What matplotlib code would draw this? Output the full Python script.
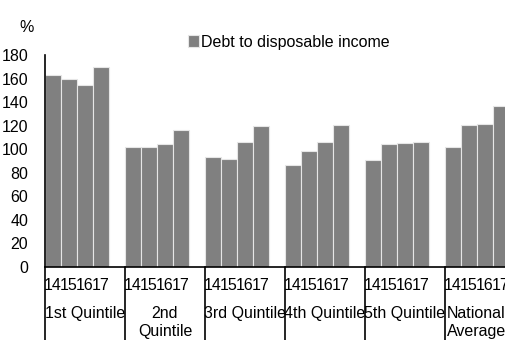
import matplotlib
matplotlib.use("Agg")
import matplotlib.pyplot as plt
import matplotlib.transforms as mtransforms
import numpy as np

plt.rcParams['font.family'] = ['Liberation Sans', 'DejaVu Sans']
plt.rcParams['font.size'] = 11.5

# debt to disposable income by quintile, years 2014-2017
groups = ['1st Quintile', '2nd\nQuintile', '3rd Quintile', '4th Quintile', '5th Quintile', 'National\nAverage']
years = ['14', '15', '16', '17']
values = [
    [162.7, 159.3, 154.8, 170.0],
    [101.9, 101.9, 104.4, 116.3],
    [93.1, 91.7, 106.1, 120.0],
    [86.3, 98.5, 106.1, 120.3],
    [90.6, 104.2, 105.3, 106.4],
    [102.1, 120.9, 121.7, 136.7],
]

fig = plt.figure(figsize=(5.05, 3.4), dpi=100)
ax = fig.add_axes([45 / 505, 1 - 267 / 340, 480 / 505, 212 / 340])

slot = 5  # 4 bars + 1 empty slot per group
xs, hs = [], []
for g, vals in enumerate(values):
    for i, v in enumerate(vals):
        xs.append(g * slot + i + 0.5)
        hs.append(v)
ax.bar(xs, hs, width=0.95, color='#808080', edgecolor='#e6e6e6', linewidth=0.8,
       label='Debt to disposable income')

ax.set_xlim(0, len(groups) * slot)
ax.set_ylim(0, 180)
ax.set_yticks(np.arange(0, 181, 20))
ax.tick_params(axis='y', length=0, pad=12)
ax.set_xticks([])
for s in ['top', 'right']:
    ax.spines[s].set_visible(False)
ax.spines['left'].set_linewidth(1.2)
ax.spines['bottom'].set_linewidth(1.2)

trans = mtransforms.blended_transform_factory(ax.transData, ax.transAxes)
for g, name in enumerate(groups):
    x0 = g * slot
    ax.plot([x0, x0], [0, -0.36], color='black', lw=1.2, transform=trans, clip_on=False)
    for i, yr in enumerate(years):
        ax.text(x0 + i + 0.5, -0.085, yr, ha='center', va='center', transform=trans)
    if g == len(groups) - 1:
        ax.text(x0 + 0.1, -0.183, name, ha='left', va='top', transform=trans,
                linespacing=1.3)
    else:
        ax.text(x0 + 2.5, -0.183, name, ha='center', va='top', transform=trans,
                linespacing=1.3)

ax.legend(loc='center left', bbox_to_anchor=(180 / 505, 1 - 42 / 340),
          bbox_transform=fig.transFigure, frameon=False, borderpad=0,
          handlelength=0.7, handleheight=0.7, handletextpad=0.1)

fig.text(27 / 505, 1 - 27 / 340, '%', ha='center', va='center')

fig.savefig('out.png', dpi=100)
